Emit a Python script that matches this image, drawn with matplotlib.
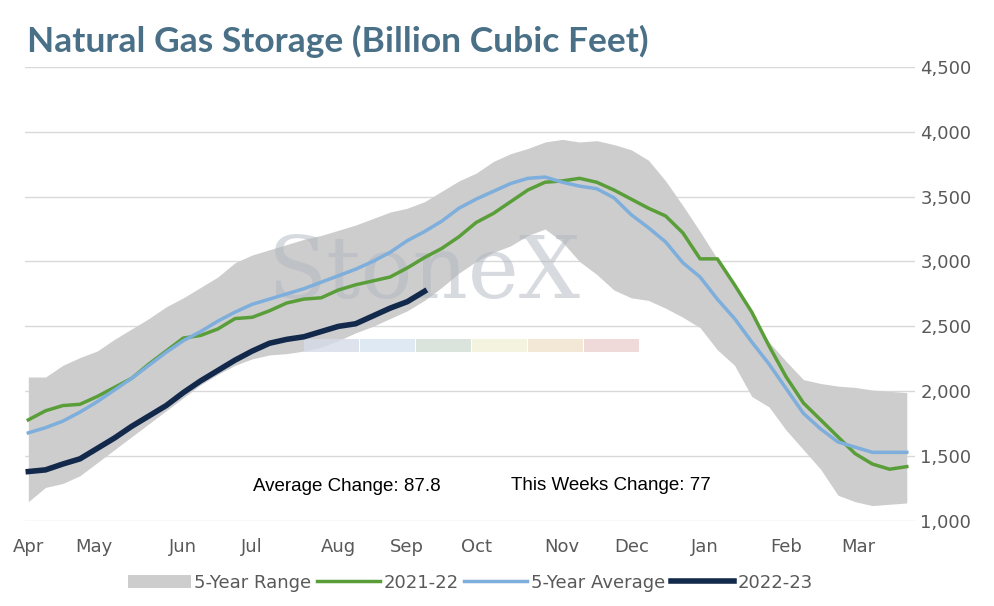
import matplotlib.pyplot as plt
import numpy as np

months = ['Apr', 'May', 'Jun', 'Jul', 'Aug', 'Sep', 'Oct', 'Nov', 'Dec', 'Jan', 'Feb', 'Mar']
month_weeks = [0, 3.8, 9, 13, 18, 22, 26, 31, 35, 39.3, 44, 48.2]

range_high = [2110, 2110, 2200, 2260, 2310, 2400, 2480, 2560, 2650, 2720, 2800, 2880, 2990, 3050, 3090,
              3130, 3170, 3200, 3240, 3280, 3330, 3380, 3410, 3460, 3540, 3620, 3680, 3770, 3830, 3870,
              3920, 3940, 3920, 3930, 3900, 3860, 3780, 3620, 3430, 3230, 3020, 2810, 2600, 2380, 2230,
              2090, 2060, 2040, 2030, 2010, 2000, 1990]
range_low = [1150, 1260, 1290, 1350, 1450, 1550, 1650, 1750, 1850, 1950, 2050, 2130, 2200, 2250, 2280,
             2290, 2310, 2340, 2390, 2450, 2500, 2560, 2620, 2700, 2800, 2910, 3000, 3070, 3120, 3200,
             3250, 3150, 3000, 2900, 2780, 2720, 2700, 2640, 2570, 2490, 2320, 2200, 1960, 1880, 1700,
             1550, 1400, 1200, 1150, 1120, 1130, 1140]
avg_5y = [1680, 1720, 1770, 1840, 1920, 2010, 2100, 2200, 2300, 2390, 2460, 2540, 2610, 2670, 2710,
          2750, 2790, 2840, 2890, 2940, 3000, 3070, 3160, 3230, 3310, 3410, 3480, 3540, 3600, 3640,
          3650, 3610, 3580, 3560, 3490, 3360, 3260, 3150, 2990, 2880, 2710, 2560, 2380, 2210, 2020,
          1830, 1710, 1610, 1570, 1530, 1530, 1530]
s2021 = [1780, 1850, 1890, 1900, 1960, 2030, 2100, 2210, 2310, 2410, 2430, 2480, 2560, 2570, 2620,
         2680, 2710, 2720, 2780, 2820, 2850, 2880, 2950, 3030, 3100, 3190, 3300, 3370, 3460, 3550,
         3610, 3620, 3640, 3610, 3550, 3480, 3410, 3350, 3220, 3020, 3020, 2820, 2610, 2350, 2110,
         1910, 1780, 1650, 1520, 1440, 1400, 1420]
s2022 = [1382, 1395, 1440, 1480, 1560, 1640, 1730, 1810, 1890, 1990, 2080, 2160, 2240, 2310, 2370,
         2400, 2420, 2460, 2500, 2520, 2580, 2640, 2690, 2770]

weeks = np.arange(len(range_high))

fig, ax = plt.subplots(figsize=(9.95, 6.06), dpi=100)
fig.subplots_adjust(left=0.025, right=0.92, top=0.89, bottom=0.14)

ax.fill_between(weeks, range_low, range_high, color='#cdcdcd', lw=0, label='5-Year Range')
ax.plot(weeks, s2021, color='#5a9e3a', lw=2.5, label='2021-22', zorder=3)
ax.plot(weeks, avg_5y, color='#7eaedb', lw=2.5, label='5-Year Average', zorder=3)
ax.plot(np.arange(len(s2022)), s2022, color='#13294b', lw=4, label='2022-23', zorder=3)

ax.text(23, 2900, 'StoneX', fontsize=62, family='serif', color='#b0b8c2', alpha=0.5,
        ha='center', va='center', zorder=2)
sq_cols = ['#d5dbe8', '#d8e4f0', '#d3dcd5', '#f2f0d8', '#f0e2cc', '#ecd0d0']
for i, c in enumerate(sq_cols):
    ax.add_patch(plt.Rectangle((16 + i * 3.25, 2300), 3.2, 100, color=c, alpha=0.8, lw=0, zorder=2))

ax.text(18.5, 1230, 'Average Change: 87.8', fontsize=13.5, ha='center', family='Liberation Sans', zorder=4)
ax.text(33.8, 1240, 'This Weeks Change: 77', fontsize=13.5, ha='center', family='Liberation Sans', zorder=4)

ax.set_xlim(-0.2, 51.5)
ax.set_ylim(1000, 4500)
ax.set_yticks(range(1000, 4501, 500))
ax.set_yticklabels([f'{v:,}' for v in range(1000, 4501, 500)])
ax.yaxis.tick_right()
ax.set_xticks(month_weeks)
ax.set_xticklabels(months)
ax.tick_params(length=0, labelsize=13, colors='#595959')
ax.tick_params(axis='x', pad=12)
ax.grid(axis='y', color='#d9d9d9', lw=1)
ax.set_axisbelow(True)
for s in ax.spines.values():
    s.set_visible(False)

fig.text(0.027, 0.915, 'Natural Gas Storage (Billion Cubic Feet)', fontsize=25.5, fontweight='bold',
         color='#4a7088', family='Lato')
ax.legend(loc='upper center', bbox_to_anchor=(0.5, -0.08), ncol=4, frameon=False, fontsize=13,
          labelcolor='#595959', handlelength=3.5, columnspacing=0.3, handletextpad=0.2)

fig.savefig('out.png')
